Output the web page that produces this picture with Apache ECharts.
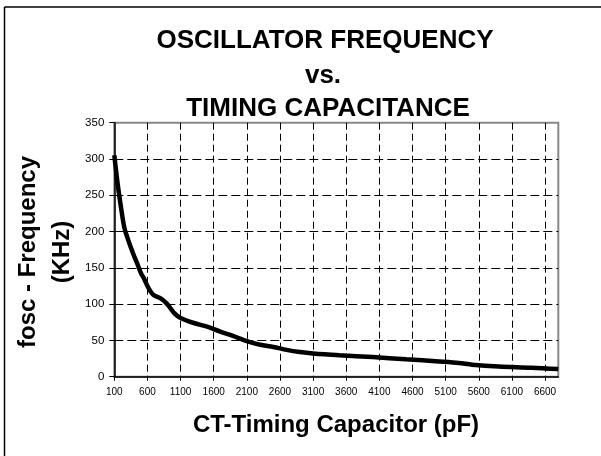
<!DOCTYPE html>
<html>
<head>
<meta charset="utf-8">
<script src="https://cdn.jsdelivr.net/npm/echarts@6/dist/echarts.min.js"></script>
<style>
html,body{margin:0;padding:0;background:#fff;}
#c{width:601px;height:456px;}
</style>
</head>
<body>
<div id="c"></div>
<script>
var titleLines = ['OSCILLATOR FREQUENCY', 'vs.', 'TIMING CAPACITANCE'];
var xName = 'CT-Timing Capacitor (pF)';
var yNameLines = ['fosc - Frequency', '(KHz)'];
var capacitance = [100, 150, 200, 250, 300, 350, 400, 450, 500, 550, 600, 650, 700, 800, 900, 1000, 1100, 1300, 1500, 1700, 1900, 2100, 2300, 2500, 2700, 2900, 3100, 3500, 4000, 4500, 5000, 5300, 5500, 5900, 6400, 6800];
var frequency = [305, 266, 234, 206, 191, 178, 166, 155, 143, 135, 125, 117, 112, 108, 100, 88, 81, 74, 69, 62, 56, 49, 44, 41, 37, 34, 32, 29.5, 27, 24, 21, 19, 16.5, 14, 12.5, 10.5];

var FONT = '"Liberation Sans", Arial, sans-serif';
var chart = echarts.init(document.getElementById('c'), null, {renderer: 'canvas'});
var seriesData = capacitance.map(function (c, i) { return [c, frequency[i]]; });

chart.setOption({
  animation: false,
  backgroundColor: '#fff',
  grid: {
    left: 114.3, top: 122.7, width: 444, height: 254,
    show: true, borderColor: '#888', borderWidth: 2, backgroundColor: 'transparent'
  },
  xAxis: {
    type: 'value', min: 100, max: 6800, interval: 500,
    axisLine: {show: true, lineStyle: {color: '#000', width: 1.5}},
    axisTick: {show: true, length: 4, lineStyle: {color: '#000', width: 1}},
    axisLabel: {show: true, showMaxLabel: false, color: '#000', fontSize: 10, fontFamily: FONT, margin: 11,
      formatter: function (v) { return String(v); }},
    splitLine: {show: true, showMinLine: false, showMaxLine: false, lineStyle: {color: '#000', width: 1, type: [7, 4]}}
  },
  yAxis: {
    type: 'value', min: 0, max: 350, interval: 50,
    axisLine: {show: true, lineStyle: {color: '#000', width: 1.5}},
    axisTick: {show: true, length: 5, lineStyle: {color: '#000', width: 1}},
    axisLabel: {color: '#000', fontSize: 11.5, fontFamily: FONT, margin: 10,
      formatter: function (v) { return String(v); }},
    splitLine: {show: true, showMinLine: false, showMaxLine: false, lineStyle: {color: '#000', width: 1, type: [9, 4]}}
  },
  series: [{
    type: 'line',
    data: seriesData,
    showSymbol: false,
    smooth: 0.3,
    lineStyle: {color: '#000', width: 4.5},
    z: 5
  }],
  graphic: [
    {type: 'line', shape: {x1: 4.5, y1: 7, x2: 601, y2: 7}, style: {stroke: '#000', lineWidth: 1.5}},
    {type: 'line', shape: {x1: 4.5, y1: 7, x2: 4.5, y2: 456}, style: {stroke: '#000', lineWidth: 1.5}},
    {type: 'text', x: 325, y: 41, style: {text: titleLines[0], font: 'bold 26px ' + FONT, fill: '#000', textAlign: 'center', textVerticalAlign: 'middle'}},
    {type: 'text', x: 323, y: 76, style: {text: titleLines[1], font: 'bold 26px ' + FONT, fill: '#000', textAlign: 'center', textVerticalAlign: 'middle'}},
    {type: 'text', x: 328, y: 108.5, style: {text: titleLines[2], font: 'bold 26px ' + FONT, fill: '#000', textAlign: 'center', textVerticalAlign: 'middle'}},
    {type: 'text', x: 336, y: 425, style: {text: xName, font: 'bold 24px ' + FONT, fill: '#000', textAlign: 'center', textVerticalAlign: 'middle'}},
    {type: 'text', x: 28, y: 252, rotation: Math.PI / 2, style: {text: yNameLines[0], font: 'bold 24px ' + FONT, fill: '#000', textAlign: 'center', textVerticalAlign: 'middle'}},
    {type: 'text', x: 62, y: 252, rotation: Math.PI / 2, style: {text: yNameLines[1], font: 'bold 24px ' + FONT, fill: '#000', textAlign: 'center', textVerticalAlign: 'middle'}}
  ]
});
</script>
</body>
</html>
